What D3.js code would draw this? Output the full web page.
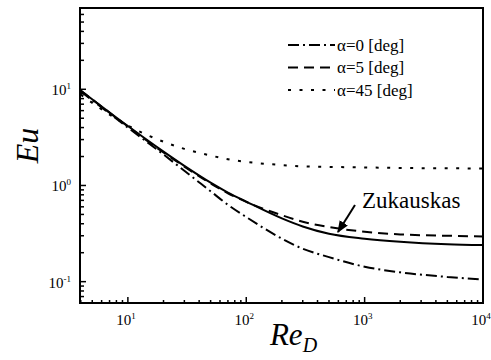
<!DOCTYPE html>
<html>
<head>
<meta charset="utf-8">
<script src="https://cdn.jsdelivr.net/npm/d3@7"></script>
<style>
  body { margin: 0; background: #fff; }
</style>
</head>
<body>
<script>
// Data
var re_values = [4, 10, 20, 30, 50, 70, 100, 200, 300, 500, 1000, 2000, 5000, 10000];
var eu_alpha0 = [9.5, 4.0, 2.1, 1.42, 0.87, 0.63, 0.47, 0.28, 0.22, 0.18, 0.143, 0.125, 0.112, 0.105];
var eu_alpha5 = [9.7, 4.1, 2.2, 1.57, 1.05, 0.83, 0.675, 0.49, 0.42, 0.37, 0.33, 0.31, 0.30, 0.295];
var eu_alpha45 = [8.8, 4.2, 2.85, 2.4, 2.05, 1.87, 1.76, 1.63, 1.58, 1.56, 1.54, 1.52, 1.51, 1.50];
var eu_zukauskas = [9.7, 4.15, 2.25, 1.6, 1.07, 0.845, 0.68, 0.455, 0.375, 0.315, 0.28, 0.26, 0.245, 0.24];
var legend_labels = ["\u03b1=0 [deg]", "\u03b1=5 [deg]", "\u03b1=45 [deg]"];
var x_ticks = [10, 100, 1000, 10000];
var y_ticks = [0.1, 1, 10];

var serif = "'Liberation Serif', 'Times New Roman', 'DejaVu Serif', serif";

// margins
var margin = { top: 8, right: 8, bottom: 57, left: 80 };
var outer_width = 491;
var outer_height = 360;
var w = outer_width - margin.left - margin.right;
var h = outer_height - margin.top - margin.bottom;

var svg = d3.select("body")
    .append("svg")
    .attr("width", outer_width)
    .attr("height", outer_height)
    .attr("font-family", serif)
    .style("font-family", serif)
    .append("g")
    .attr("transform", "translate(" + margin.left + "," + margin.top + ")");

var xScale = d3.scaleLog().domain([3.94, 10000]).range([0, w]);
var yScale = d3.scaleLog().domain([0.06, 70]).range([h, 0]);

// minor tick values
function minorTicks(lo, hi) {
    var out = [];
    for (var e = -3; e <= 5; e++) {
        for (var m = 1; m <= 9; m++) {
            var v = m * Math.pow(10, e);
            if (v >= lo && v <= hi) out.push(v);
        }
    }
    return out;
}

var xMinor = minorTicks(3.94, 10000).filter(function (v) { return x_ticks.indexOf(v) < 0; });
var yMinor = minorTicks(0.06, 70).filter(function (v) { return y_ticks.indexOf(v) < 0; });

// ticks, drawn inward
svg.selectAll(".xminor").data(xMinor).enter().append("line")
    .attr("x1", function (d) { return xScale(d); })
    .attr("x2", function (d) { return xScale(d); })
    .attr("y1", h).attr("y2", h - 3)
    .attr("stroke", "#000").attr("stroke-width", 1.5);
svg.selectAll(".xmajor").data(x_ticks).enter().append("line")
    .attr("x1", function (d) { return xScale(d); })
    .attr("x2", function (d) { return xScale(d); })
    .attr("y1", h).attr("y2", h - 6)
    .attr("stroke", "#000").attr("stroke-width", 1.5);
svg.selectAll(".yminor").data(yMinor).enter().append("line")
    .attr("y1", function (d) { return yScale(d); })
    .attr("y2", function (d) { return yScale(d); })
    .attr("x1", 0).attr("x2", 4)
    .attr("stroke", "#000").attr("stroke-width", 1.5);
svg.selectAll(".ymajor").data(y_ticks).enter().append("line")
    .attr("y1", function (d) { return yScale(d); })
    .attr("y2", function (d) { return yScale(d); })
    .attr("x1", 0).attr("x2", 6)
    .attr("stroke", "#000").attr("stroke-width", 1.5);

// tick labels 10^n
function powLabel(sel, d) {
    var e = Math.round(Math.log10(d));
    sel.append("tspan").text("10");
    sel.append("tspan").attr("dy", -6).style("font-size", "9px").text(e);
}

svg.selectAll(".xlab").data(x_ticks).enter().append("text")
    .attr("x", function (d) { return xScale(d) - 2; })
    .attr("y", h + 22)
    .attr("text-anchor", "middle")
    .style("font-size", "15px")
    .each(function (d) { powLabel(d3.select(this), d); });

svg.selectAll(".ylab").data(y_ticks).enter().append("text")
    .attr("x", -9)
    .attr("y", function (d) { return yScale(d) + 6; })
    .attr("text-anchor", "end")
    .style("font-size", "15px")
    .each(function (d) { powLabel(d3.select(this), d); });

// curves
var series = [
    { values: eu_alpha0, dash: "11,4,2,4" },
    { values: eu_alpha5, dash: "10,6" },
    { values: eu_alpha45, dash: "3,8.5" },
    { values: eu_zukauskas, dash: null }
];

var line = d3.line()
    .x(function (d) { return xScale(d[0]); })
    .y(function (d) { return yScale(d[1]); })
    .curve(d3.curveMonotoneX);

svg.append("defs").append("clipPath").attr("id", "clip")
    .append("rect").attr("width", w).attr("height", h);

series.forEach(function (s) {
    svg.append("path")
        .datum(re_values.map(function (r, i) { return [r, s.values[i]]; }))
        .attr("d", line)
        .attr("fill", "none")
        .attr("stroke", "#000")
        .attr("stroke-width", 2)
        .attr("stroke-dasharray", s.dash)
        .attr("clip-path", "url(#clip)");
});

// frame
svg.append("rect")
    .attr("width", w).attr("height", h)
    .attr("fill", "none").attr("stroke", "#000").attr("stroke-width", 2);

// legend
var legend = svg.selectAll(".legend").data(legend_labels).enter().append("g")
    .attr("transform", function (d, i) { return "translate(208," + (37 + i * 22.5) + ")"; });
legend.append("line")
    .attr("x1", 0).attr("x2", 47)
    .attr("stroke", "#000").attr("stroke-width", 2)
    .attr("stroke-dasharray", function (d, i) { return series[i].dash; });
legend.append("text")
    .attr("x", 49).attr("y", 5.5)
    .style("font-size", "17px")
    .text(function (d) { return d; });

// Zukauskas annotation
svg.append("text")
    .attr("x", 282).attr("y", 200)
    .style("font-size", "23px")
    .text("Zukauskas");
svg.append("defs").append("marker")
    .attr("id", "arrow").attr("viewBox", "0 0 10 10")
    .attr("refX", 9).attr("refY", 5)
    .attr("markerWidth", 6).attr("markerHeight", 6)
    .attr("orient", "auto")
    .append("path").attr("d", "M0,1 L10,5 L0,9 Z").attr("fill", "#000");
svg.append("line")
    .attr("x1", 275).attr("y1", 197)
    .attr("x2", 258).attr("y2", 224)
    .attr("stroke", "#000").attr("stroke-width", 2)
    .attr("marker-end", "url(#arrow)");

// axis titles
svg.append("text")
    .attr("transform", "translate(" + (-42) + "," + (h / 2 - 10) + ") rotate(-90)")
    .attr("text-anchor", "middle")
    .style("font-size", "32px")
    .style("font-style", "italic")
    .text("Eu");

var xt = svg.append("text")
    .attr("x", w / 2 + 12).attr("y", h + 42)
    .attr("text-anchor", "middle")
    .style("font-size", "31px")
    .style("font-style", "italic");
xt.append("tspan").text("Re");
xt.append("tspan").attr("dy", 7).style("font-size", "20px").text("D");
</script>
</body>
</html>
